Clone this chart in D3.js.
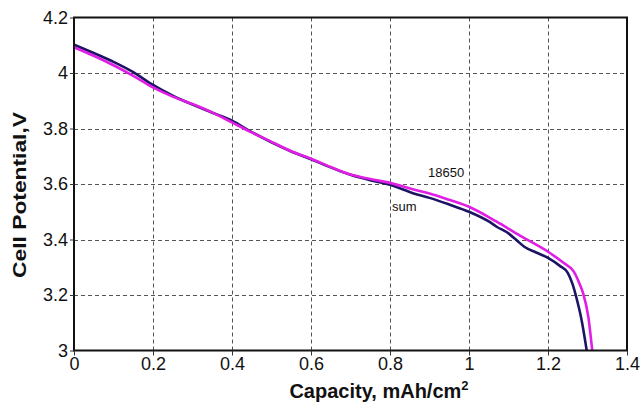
<!DOCTYPE html>
<html>
<head>
<meta charset="utf-8">
<script src="https://cdn.jsdelivr.net/npm/d3@7"></script>
<style>
  html, body { margin: 0; padding: 0; background: #fff; }
  svg { display: block; }
  text { font-family: "Liberation Sans", Arial, sans-serif; fill: #111; }
</style>
</head>
<body>
<svg id="chart" width="641" height="411"></svg>
<script>
// Discharge curves: capacity (mAh/cm²) vs cell potential (V)
const sumCapacity = [0, 0.05, 0.1, 0.15, 0.2, 0.25, 0.3, 0.35, 0.4, 0.45, 0.5, 0.55, 0.6, 0.65, 0.7, 0.75, 0.8, 0.86, 0.9, 0.95, 1.0, 1.05, 1.07, 1.1, 1.12, 1.14, 1.17, 1.2, 1.23, 1.25, 1.262, 1.272, 1.285, 1.298];
const sumVoltage  = [4.102, 4.072, 4.040, 4.003, 3.957, 3.918, 3.886, 3.857, 3.828, 3.787, 3.750, 3.717, 3.689, 3.660, 3.633, 3.614, 3.597, 3.566, 3.550, 3.526, 3.500, 3.465, 3.446, 3.422, 3.398, 3.374, 3.353, 3.334, 3.305, 3.280, 3.240, 3.190, 3.110, 3.000];

const cellCapacity = [0, 0.05, 0.1, 0.15, 0.2, 0.25, 0.3, 0.35, 0.4, 0.45, 0.5, 0.55, 0.6, 0.65, 0.7, 0.75, 0.8, 0.86, 0.9, 0.95, 1.0, 1.07, 1.13, 1.2, 1.24, 1.265, 1.28, 1.289, 1.302, 1.312];
const cellVoltage  = [4.093, 4.062, 4.028, 3.990, 3.948, 3.915, 3.888, 3.858, 3.822, 3.786, 3.752, 3.718, 3.691, 3.661, 3.634, 3.618, 3.604, 3.580, 3.566, 3.543, 3.518, 3.464, 3.413, 3.356, 3.315, 3.285, 3.240, 3.206, 3.122, 3.000];

const xTicks = [0, 0.2, 0.4, 0.6, 0.8, 1.0, 1.2, 1.4];
const yTicks = [3.0, 3.2, 3.4, 3.6, 3.8, 4.0, 4.2];

const svg = d3.select("#chart");
const plotLeft = 74, plotRight = 627, plotTop = 17.5, plotBottom = 350.5;

const x = d3.scaleLinear().domain([0, 1.4]).range([plotLeft, plotRight]);
const y = d3.scaleLinear().domain([3.0, 4.2]).range([plotBottom, plotTop]);
const fmt = v => String(+v.toFixed(1));

// dashed grid
const grid = svg.append("g").attr("stroke", "#555").attr("stroke-width", 1).attr("stroke-dasharray", "4,3");
grid.selectAll(".gx").data(xTicks.slice(1, -1)).join("line")
  .attr("x1", d => Math.round(x(d)) + 0.5).attr("x2", d => Math.round(x(d)) + 0.5)
  .attr("y1", plotTop).attr("y2", plotBottom);
grid.selectAll(".gy").data(yTicks.slice(1, -1)).join("line")
  .attr("y1", d => Math.round(y(d)) + 0.5).attr("y2", d => Math.round(y(d)) + 0.5)
  .attr("x1", plotLeft).attr("x2", plotRight);

// curves
const series = [
  { name: "sum", xs: sumCapacity, ys: sumVoltage, color: "#1c1464" },
  { name: "18650", xs: cellCapacity, ys: cellVoltage, color: "#e01ee6" }
];
const line = d3.line().x(d => x(d[0])).y(d => y(d[1])).curve(d3.curveMonotoneX);
series.forEach(s => {
  svg.append("path")
    .datum(s.xs.map((v, i) => [v, s.ys[i]]))
    .attr("fill", "none")
    .attr("stroke", s.color)
    .attr("stroke-width", 2.6)
    .attr("stroke-linejoin", "round")
    .attr("d", line);
});

// frame
svg.append("rect").attr("x", plotLeft).attr("y", plotTop)
  .attr("width", plotRight - plotLeft).attr("height", plotBottom - plotTop)
  .attr("fill", "none").attr("stroke", "#111").attr("stroke-width", 2);

// axes
const xAxis = svg.append("g").attr("transform", `translate(0,${plotBottom})`)
  .call(d3.axisBottom(x).tickValues(xTicks).tickFormat(fmt).tickSize(5).tickPadding(2));
const yAxis = svg.append("g").attr("transform", `translate(${plotLeft},0)`)
  .call(d3.axisLeft(y).tickValues(yTicks).tickFormat(fmt).tickSize(4).tickPadding(2));
[xAxis, yAxis].forEach(a => {
  a.select(".domain").remove();
  a.selectAll(".tick line").attr("stroke", "#333").attr("stroke-width", 1);
  a.selectAll(".tick text").attr("font-size", 18).attr("fill", "#222")
    .attr("font-family", "'Liberation Sans', Arial, sans-serif");
});

// curve labels
svg.append("text").attr("x", 428).attr("y", 177).attr("font-size", 13).text("18650");
svg.append("text").attr("x", 392).attr("y", 211).attr("font-size", 13).text("sum");

// axis titles
const xt = svg.append("text").attr("x", 379).attr("y", 398)
  .attr("text-anchor", "middle").attr("font-size", 20).attr("font-weight", "bold");
xt.append("tspan").text("Capacity, mAh/cm");
xt.append("tspan").attr("font-size", 13).attr("dy", -8).text("2");

svg.append("text").attr("transform", "translate(26,195) rotate(-90) scale(1.2,1)")
  .attr("text-anchor", "middle").attr("font-size", 19).attr("font-weight", "bold")
  .text("Cell Potential,V");
</script>
</body>
</html>
